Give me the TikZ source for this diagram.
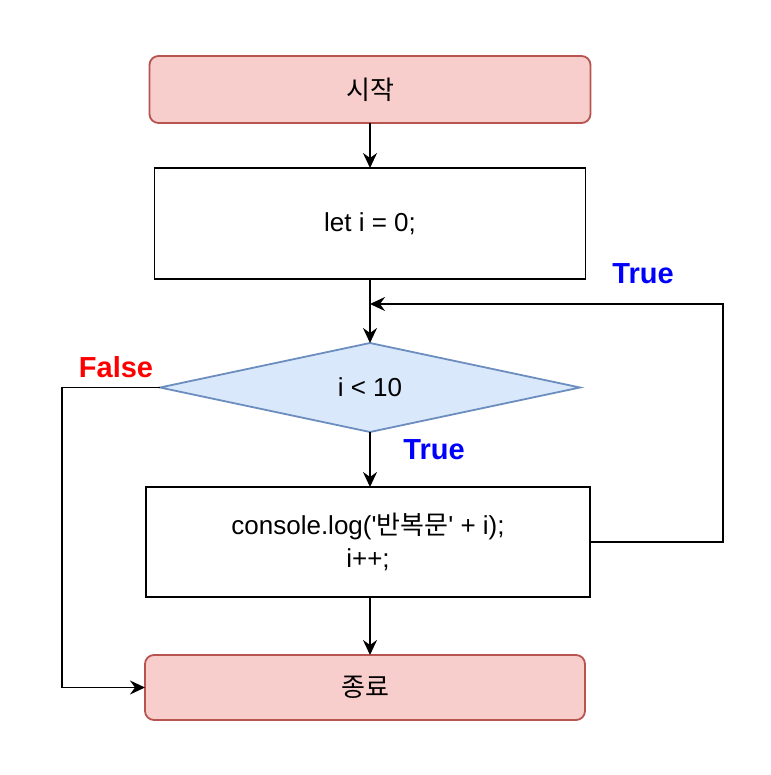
\documentclass[tikz,border=0pt]{standalone}
\usepackage{fontspec}
\setmainfont{Liberation Sans}
\newfontfamily\krfont{Noto Sans CJK KR}
\usepackage{xcolor}
\usetikzlibrary{shapes.geometric, arrows.meta, positioning, calc}

\definecolor{termfill}{HTML}{F8CECC}
\definecolor{termdraw}{HTML}{B85450}
\definecolor{decfill}{HTML}{DAE8FC}
\definecolor{decdraw}{HTML}{6C8EBF}

\begin{document}
\begin{tikzpicture}[
    x=1pt, y=-1pt,
    font=\fontsize{26}{33}\selectfont,
    terminal/.style={rectangle, rounded corners=9pt, draw=termdraw, fill=termfill, line width=1.8pt, outer sep=0pt, minimum width=441pt, minimum height=67pt, align=center},
    process/.style={rectangle, draw=black, line width=1.8pt, outer sep=0pt, minimum width=431pt, minimum height=111pt, align=center},
    decision/.style={diamond, draw=decdraw, fill=decfill, line width=1.8pt, outer sep=0pt, minimum width=420pt, minimum height=89pt, aspect=4.72, inner sep=0pt, align=center},
    arrow/.style={-{Stealth[length=15pt, width=14pt, inset=5pt]}, line width=1.8pt},
    truelabel/.style={text=blue, font=\fontsize{29}{34}\selectfont\bfseries},
    falselabel/.style={text=red, font=\fontsize{29}{34}\selectfont\bfseries}
]
\useasboundingbox (0,0) rectangle (770,775);

% Flow
\node[terminal] (start) at (370,89.5) {{\krfont 시작}};
\node[process, below=45pt of start] (init) {let i = 0;};
\node[decision, below=64pt of init] (cond) {i < 10};
\node[process, minimum width=444pt, minimum height=110pt, below=55pt of cond, xshift=-2pt] (body) {console.log(\textquotesingle{\krfont 반복문}\textquotesingle{} + i);\\i++;};
\node[terminal, minimum width=440pt, minimum height=65pt, below=58pt of body, xshift=-3pt] (stop) {{\krfont 종료}};

% Merge point of the loop
\coordinate (merge) at ($(init.south)+(0,25)$);

% Arrows
\draw[arrow] (start) -- (init);
\draw[arrow] (init) -- (cond);
\draw[arrow] (cond) -- (cond |- body.north);
\draw[arrow] (body.south -| cond) -- (stop.north -| cond);
\draw[arrow] (body.east) -- ++(133,0) |- (merge);
\draw[arrow] (cond.west) -- ++(-98,0) |- (stop.west);

% Labels
\node[truelabel] (looplabel) at (643,274) {True};
\node[falselabel] (exitlabel) at (116,367) {False};
\node[truelabel] (enterlabel) at (434,450) {True};

\end{tikzpicture}
\end{document}
